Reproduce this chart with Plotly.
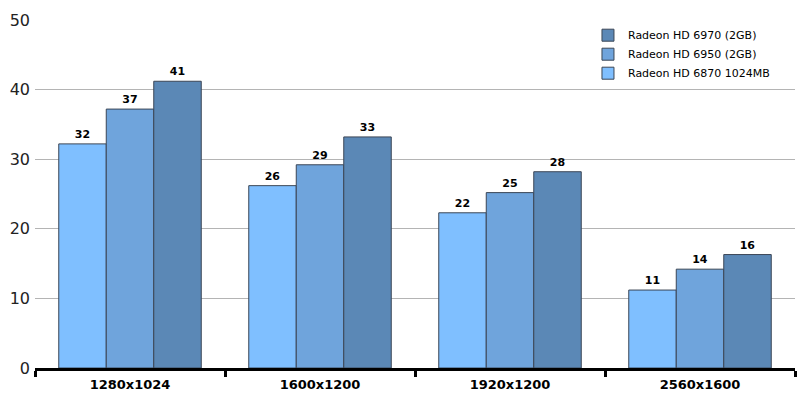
import plotly.graph_objects as go

categories = ["1280x1024", "1600x1200", "1920x1200", "2560x1600"]
hd6870 = [32.2, 26.2, 22.3, 11.2]
hd6950 = [37.2, 29.2, 25.2, 14.2]
hd6970 = [41.2, 33.2, 28.2, 16.3]
series_names = ["Radeon HD 6870 1024MB", "Radeon HD 6950 (2GB)", "Radeon HD 6970 (2GB)"]
colors = ["#7fbfff", "#6fa4dc", "#5b88b6"]

fig = go.Figure()
for name, vals, col in zip(series_names, [hd6870, hd6950, hd6970], colors):
    fig.add_trace(go.Bar(
        x=categories, y=vals, name=name,
        marker=dict(color=col, line=dict(color="#3b4656", width=1)),
        text=[f"{round(v)}" for v in vals],
        textposition="outside",
        textfont=dict(family="DejaVu Sans", size=11, color="#000000", weight="bold"),
        cliponaxis=False,
    ))

fig.update_layout(
    width=805, height=397,
    margin=dict(l=35, r=10, t=20, b=29, autoexpand=False),
    paper_bgcolor="white", plot_bgcolor="white",
    barmode="group", bargap=0.25, bargroupgap=0,
    font=dict(family="DejaVu Sans", color="#000000"),
    showlegend=True,
    legend=dict(
        x=0.7276, y=0.998, xanchor="left", yanchor="top",
        traceorder="reversed",
        font=dict(family="DejaVu Sans", size=11, color="#000000"),
        bgcolor="rgba(0,0,0,0)",
        itemwidth=30,
        tracegroupgap=0,
    ),
    xaxis=dict(
        type="category", automargin=False,
        showline=True, linecolor="#000000", linewidth=3,
        ticks="outside", tickson="boundaries", tickcolor="#000000",
        tickwidth=3, ticklen=6,
        tickfont=dict(family="DejaVu Sans", size=13, color="#000000", weight="bold"),
        ticklabelstandoff=2,
        showgrid=False,
    ),
    yaxis=dict(
        range=[0, 50], dtick=10, automargin=False,
        showgrid=True, gridcolor="#b4b4b4", gridwidth=1,
        showline=False, zeroline=False,
        tickfont=dict(family="DejaVu Sans", size=16, color="#222222"),
        ticks="", ticklabelstandoff=4,
    ),
)

fig.write_html("out.html")
